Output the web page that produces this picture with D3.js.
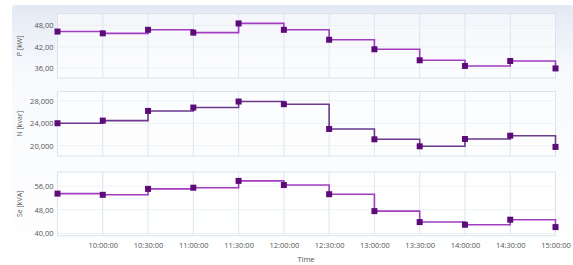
<!DOCTYPE html>
<html><head><meta charset="utf-8">
<script src="https://cdn.jsdelivr.net/npm/d3@7"></script>
<style>body{margin:0;background:#fff}svg{display:block}text{font-family:"Open Sans","Noto Sans",sans-serif}</style>
</head><body>
<svg id="c" width="573" height="265"></svg>
<script>
const times = ["09:30","10:00","10:30","11:00","11:30","12:00","12:30","13:00","13:30","14:00","14:30","15:00"];
const pValues = [46.3,45.8,46.8,46.0,48.6,46.8,44.0,41.3,38.2,36.6,38.0,35.9];
const nValues = [24000,24470,26200,26800,27880,27400,22980,21130,19880,21190,21780,19770];
const seValues = [53.4,53.0,55.0,55.4,57.7,56.3,53.2,47.5,43.8,42.9,44.6,42.1];
const xTickLabels = ["10:00:00","10:30:00","11:00:00","11:30:00","12:00:00","12:30:00","13:00:00","13:30:00","14:00:00","14:30:00","15:00:00"];
const pTicks = [36,42,48];
const nTicks = [20000,24000,28000];
const seTicks = [40,48,56];
const yTitles = ["P [kW]","N [kvar]","Se [kVA]"];

const svg = d3.select("#c");
const defs = svg.append("defs");
const g = defs.append("linearGradient").attr("id","bg").attr("x1",0).attr("y1",0).attr("x2",0).attr("y2",1);
g.append("stop").attr("offset","0").attr("stop-color","#e3e9f4");
g.append("stop").attr("offset","0.25").attr("stop-color","#f7f9fc");
g.append("stop").attr("offset","1").attr("stop-color","#ffffff");
svg.append("rect").attr("x",12).attr("y",5).attr("width",561).attr("height",260).attr("rx",3).attr("fill","url(#bg)");

const parse = d3.timeParse("%H:%M");
const tDates = times.map(parse);
const x = d3.scaleTime().domain([tDates[0], tDates[tDates.length-1]]).range([57.5,555.5]);
const fmtNum = (dec) => v => d3.format(",." + dec + "f")(v).replace(/\./g,"#").replace(/,/g,".").replace(/#/g,",");

const panels = [
  {vals:pValues, ticks:pTicks, dom:[33.2,51.4], top:13.5, bot:78, fmt:v=>d3.format(".2f")(v).replace(".",","), line:"#a23cc0", title:yTitles[0]},
  {vals:nValues, ticks:nTicks, dom:[18150,29670], top:91.5, bot:156, fmt:v=>d3.format(",")(v).replace(",",".") .replace(/(\d+)\.(\d{3})/,"$1,$2"), line:"#6b3a8e", title:yTitles[1]},
  {vals:seValues, ticks:seTicks, dom:[39.2,60.7], top:172, bot:235.7, fmt:v=>d3.format(".2f")(v).replace(".",","), line:"#a23cc0", title:yTitles[2]}
];

panels.forEach((p,i) => {
  const y = d3.scaleLinear().domain(p.dom).range([p.bot,p.top]);
  const gp = svg.append("g");
  gp.append("rect").attr("x",57.5).attr("y",p.top).attr("width",498).attr("height",p.bot-p.top)
    .attr("fill","#ffffff").attr("fill-opacity",0.55).attr("stroke","#dde3ea");
  // horizontal grid
  gp.selectAll(".hg").data(p.ticks).join("line")
    .attr("x1",57.5).attr("x2",555.5).attr("y1",d=>y(d)).attr("y2",d=>y(d))
    .attr("stroke","#edf1f5");
  // vertical grid
  gp.selectAll(".vg").data(tDates.slice(1,-1)).join("line")
    .attr("x1",d=>x(d)).attr("x2",d=>x(d)).attr("y1",p.top).attr("y2",p.bot)
    .attr("stroke","#dbe6ee");
  // y axis
  const ya = d3.axisLeft(y).tickValues(p.ticks).tickSize(0).tickPadding(4).tickFormat(p.fmt);
  const ag = gp.append("g").attr("transform","translate(57.5,0)").call(ya);
  ag.select(".domain").remove();
  ag.selectAll("text").attr("fill","#555").style("font-size","7.5px");
  // y title
  gp.append("text").attr("transform",`translate(22,${(p.top+p.bot)/2}) rotate(-90)`)
    .attr("text-anchor","middle").attr("fill","#555").style("font-size","7px").text(p.title);
  // line
  const data = tDates.map((t,k)=>({t, v:p.vals[k]}));
  const ln = d3.line().x(d=>x(d.t)).y(d=>y(d.v)).curve(d3.curveStepAfter);
  gp.append("path").datum(data).attr("d",ln).attr("fill","none").attr("stroke",p.line).attr("stroke-width",1.6);
  gp.selectAll(".m").data(data).join("rect")
    .attr("x",d=>x(d.t)-3).attr("y",d=>y(d.v)-3).attr("width",6).attr("height",6)
    .attr("fill","#5c0b78");
});

// x axis
const xa = d3.axisBottom(x).tickValues(tDates.slice(1)).tickSize(0).tickPadding(6)
  .tickFormat((d,k)=>xTickLabels[k]);
const xg = svg.append("g").attr("transform","translate(0,237)").call(xa);
xg.select(".domain").remove();
xg.selectAll("text").attr("fill","#555").style("font-size","7.5px");
svg.append("text").attr("x",306).attr("y",262).attr("text-anchor","middle").attr("fill","#555").style("font-size","7.5px").text("Time");
</script>
</body></html>
